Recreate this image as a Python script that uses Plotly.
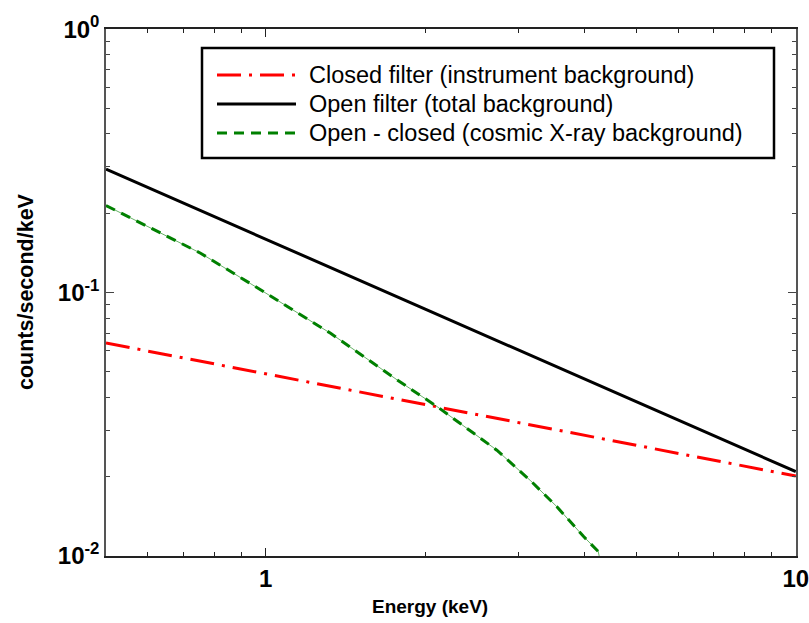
import plotly.graph_objects as go

# ---- data ----
open_x = [0.5, 1.0, 2.0, 5.0, 10.0]
open_y = [0.294, 0.160, 0.0865, 0.0385, 0.0209]

closed_x = [0.5, 1.0, 2.0, 5.0, 10.0]
closed_y = [0.0643, 0.0491, 0.0376, 0.0263, 0.0201]

cosmic_x = [0.5, 0.754, 0.937, 1.326, 1.77, 2.105, 2.73, 3.16, 3.54, 3.98, 4.24, 4.27]
cosmic_y = [0.214, 0.141, 0.108, 0.070, 0.0466, 0.0369, 0.0252, 0.0193, 0.0154, 0.01184, 0.0104, 0.0097]

series_names = ["Closed filter (instrument background)",
                "Open filter (total background)",
                "Open - closed (cosmic X-ray background)"]

y_tickvals = [0.01, 0.1, 1]
y_ticktext = ["10<sup>-2</sup>", "10<sup>-1</sup>", "10<sup>0</sup>"]
x_tickvals = [1, 10]
x_ticktext = ["1", "10"]

W, H = 809, 623
L, R, T, B = 106, 796, 29, 556

FONT = "Liberation Sans, Arial, sans-serif"
RED, BLACK, GREEN = "#ff0000", "#000000", "#008000"
RED_DASH = "24px,8px,3px,8px"
GREEN_DASH = "10px,7px"

fig = go.Figure()
fig.add_trace(go.Scatter(x=closed_x, y=closed_y, mode="lines", name=series_names[0],
                         line=dict(color=RED, width=3, dash=RED_DASH)))
fig.add_trace(go.Scatter(x=open_x, y=open_y, mode="lines", name=series_names[1],
                         line=dict(color=BLACK, width=3)))
fig.add_trace(go.Scatter(x=cosmic_x, y=cosmic_y, mode="lines", name=series_names[2] + " (thin)",
                         line=dict(color=GREEN, width=0.6)))
fig.add_trace(go.Scatter(x=cosmic_x, y=cosmic_y, mode="lines", name=series_names[2],
                         line=dict(color=GREEN, width=3, dash=GREEN_DASH)))

def px_x(p):
    return (p - L) / (R - L)

def px_y(p):
    return (B - p) / (B - T)

# manual legend
shapes = [dict(type="rect", xref="paper", yref="paper",
               x0=px_x(202), x1=px_x(774), y0=px_y(158), y1=px_y(48),
               line=dict(color="black", width=2.5), fillcolor="white", layer="above")]
annotations = []
rows = [(75, RED, "dashdot"), (104, BLACK, "solid"), (133, GREEN, "dash")]
dash_map = {"dashdot": RED_DASH, "solid": "solid", "dash": GREEN_DASH}
for (py, col, d), name in zip(rows, series_names):
    shapes.append(dict(type="line", xref="paper", yref="paper",
                       x0=px_x(217), x1=px_x(296), y0=px_y(py), y1=px_y(py),
                       line=dict(color=col, width=3, dash=dash_map[d]), layer="above"))
    annotations.append(dict(xref="paper", yref="paper", x=px_x(307), y=px_y(py),
                            xanchor="left", yanchor="middle", showarrow=False,
                            text=name, font=dict(family=FONT, size=23.5, color="black")))

# axis titles
annotations.append(dict(xref="paper", yref="paper", x=px_x(430), y=px_y(606),
                        xanchor="center", yanchor="middle", showarrow=False,
                        text="<b>Energy (keV)</b>", font=dict(family=FONT, size=19, color="black")))
annotations.append(dict(xref="paper", yref="paper", x=px_x(26), y=px_y(292),
                        xanchor="center", yanchor="middle", showarrow=False, textangle=-90,
                        text="<b>counts/second/keV</b>", font=dict(family=FONT, size=21.5, color="black")))

x_minor = [0.6, 0.7, 0.8, 0.9, 2, 3, 4, 5, 6, 7, 8, 9]
y_minor = [m * 10 ** e for e in (-2, -1) for m in range(2, 10)]

fig.update_layout(
    width=W, height=H,
    margin=dict(l=L, r=W - R, t=T, b=H - B, pad=0, autoexpand=False),
    paper_bgcolor="white", plot_bgcolor="white",
    showlegend=False,
    shapes=shapes, annotations=annotations,
    font=dict(family=FONT, color="black"),
)
fig.update_xaxes(type="log", range=[-0.30103, 1.0004], showgrid=False, zeroline=False,
                 automargin=False,
                 showline=True, linecolor="#222", linewidth=2, mirror="ticks",
                 ticks="inside", ticklen=8, tickwidth=1, tickcolor="#222",
                 tickmode="array", tickvals=x_tickvals, ticktext=["<b>%s</b>" % t for t in x_ticktext],
                 tickfont=dict(family=FONT, size=24, color="black"),
                 ticklabeloverflow="allow",
                 minor=dict(tickmode="array", tickvals=x_minor, ticks="inside", ticklen=4,
                            tickcolor="#222", tickwidth=1, showgrid=False))
fig.update_yaxes(type="log", range=[-2.0004, 0.0004], showgrid=False, zeroline=False,
                 automargin=False,
                 showline=True, linecolor="#555", linewidth=1.5, mirror="ticks",
                 ticks="inside", ticklen=8, tickwidth=1, tickcolor="#444",
                 tickmode="array", tickvals=y_tickvals, ticktext=["<b>%s</b>" % t for t in y_ticktext],
                 tickfont=dict(family=FONT, size=24, color="black"),
                 ticklabeloverflow="allow",
                 minor=dict(tickmode="array", tickvals=y_minor, ticks="inside", ticklen=4,
                            tickcolor="#444", tickwidth=1, showgrid=False))

fig.write_html("out.html")
